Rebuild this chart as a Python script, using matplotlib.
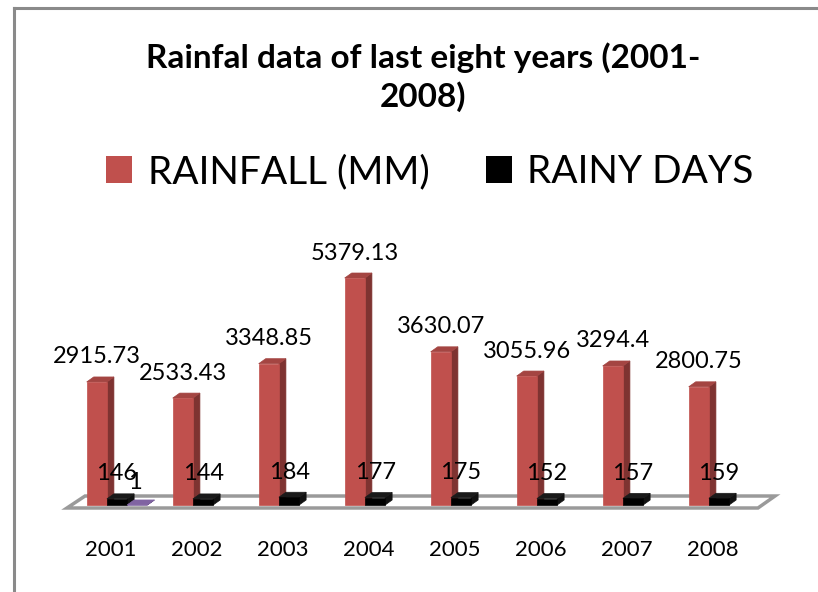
import matplotlib
matplotlib.use("Agg")

import numpy as np
import matplotlib.pyplot as plt
from matplotlib.patches import Polygon, Patch

plt.rcParams["font.family"] = ["Lato", "DejaVu Sans"]

years = ["2001", "2002", "2003", "2004", "2005", "2006", "2007", "2008"]
rainfall_mm = [2915.73, 2533.43, 3348.85, 5379.13, 3630.07, 3055.96, 3294.4, 2800.75]
rainy_days = [146, 144, 184, 177, 175, 152, 157, 159]
extra_values = [1]  # stray third series, only 2001
rainfall_labels = ["2915.73", "2533.43", "3348.85", "5379.13", "3630.07", "3055.96", "3294.4", "2800.75"]

W, H = 818, 592
fig = plt.figure(figsize=(W / 100, H / 100), dpi=100)

# axes placed in pixel space: category centre at 111 + 86*i, baseline at y=505
ax_l, ax_r, ax_t, ax_b = 20, 800, 200, 580
ax = fig.add_axes([ax_l / W, 1 - ax_b / H, (ax_r - ax_l) / W, (ax_b - ax_t) / H])
px_x = 86.0
px_y = 0.0422
ax.set_xlim((ax_l - 111) / px_x, (ax_r - 111) / px_x)
ax.set_ylim((505 - ax_b) / px_y, (505 - ax_t) / px_y)
ax.axis("off")

dx = 7 / px_x
dy = 5 / px_y
bw = 0.235


def bar3d(x0, val, front, side, top, z):
    ax.add_patch(Polygon([(x0 + bw, 0), (x0 + bw + dx, dy), (x0 + bw + dx, val + dy), (x0 + bw, val)],
                         closed=True, facecolor=side, edgecolor=side, lw=0.5, zorder=z))
    ax.add_patch(Polygon([(x0, val), (x0 + dx, val + dy), (x0 + bw + dx, val + dy), (x0 + bw, val)],
                         closed=True, facecolor=top, edgecolor=top, lw=0.5, zorder=z))
    ax.bar(x0, val, width=bw, align="edge", color=front, edgecolor=front, lw=0.5, zorder=z)


# floor
floor = Polygon([(-0.512, -71), (-0.302, 213), (7.721, 213), (7.523, -71)], closed=True,
                facecolor="white", edgecolor="#9a9a9a", lw=2.5, zorder=1)
ax.add_patch(floor)

xs = np.arange(len(years))
off_red, off_blk, off_pur = -0.165, 0.07, 0.305
for i in xs:
    bar3d(i + off_red - bw / 2, rainfall_mm[i], "#c0504d", "#7e3331", "#a44542", 3 + i * 0.01)
    bar3d(i + off_blk - bw / 2, rainy_days[i], "#000000", "#111111", "#1a1a1a", 3.005 + i * 0.01)
    ax.text(i + off_red, rainfall_mm[i] + 25 / px_y, rainfall_labels[i], ha="center", va="center",
            fontsize=17, zorder=10)
    ax.text(i + off_blk, rainy_days[i] + 25 / px_y, str(rainy_days[i]), ha="center", va="center",
            fontsize=17, zorder=10)
    ax.text(i, -45 / px_y, years[i], ha="center", va="center", fontsize=16, zorder=10)

for i, v in enumerate(extra_values):
    bar3d(i + off_pur - bw / 2, v, "#8064a2", "#5f4b7a", "#8064a2", 3.008)
    ax.text(i + off_pur - 0.03, v + 22 / px_y, str(v), ha="center", va="center", fontsize=17, zorder=11)

# outer chart frame (top and left edges visible)
fig.add_artist(plt.Line2D([14 / W, 14 / W], [0, 1 - 8 / H], color="#8a8a8a", lw=2.2))
fig.add_artist(plt.Line2D([14 / W, 1], [1 - 8 / H, 1 - 8 / H], color="#8a8a8a", lw=2.2))

fig.text(423 / W, 1 - 77 / H, "Rainfal data of last eight years (2001-\n2008)", ha="center", va="center",
         fontsize=24, fontweight="bold", linespacing=1.3)

handles = [Patch(facecolor="#c0504d"), Patch(facecolor="#000000")]
fig.legend(handles, ["RAINFALL (MM)", "RAINY DAYS"], loc="center", bbox_to_anchor=(430 / W, 1 - 172 / H),
           ncol=2, fontsize=28, frameon=False, handlelength=0.67, handleheight=0.67,
           handletextpad=0.4, columnspacing=1.45)

fig.savefig("out.png", dpi=100)
